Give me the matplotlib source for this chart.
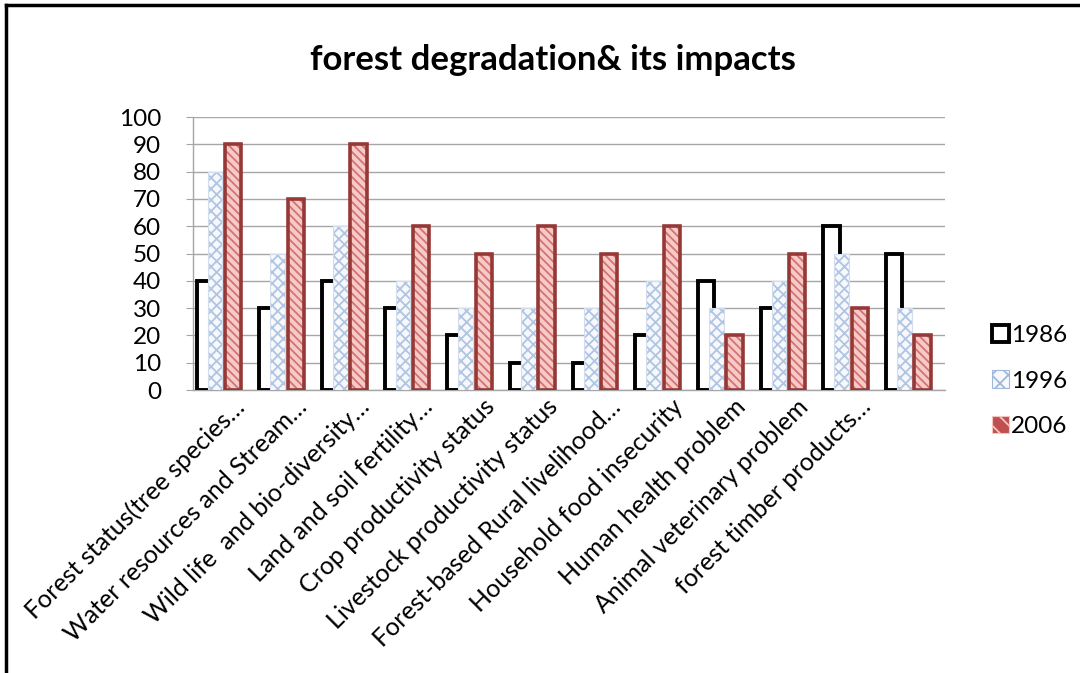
import matplotlib
matplotlib.use("Agg")
import matplotlib.pyplot as plt
import matplotlib.transforms as mtransforms
from matplotlib.patches import Patch
from matplotlib.lines import Line2D
import numpy as np

plt.rcParams['font.family'] = ['Lato', 'DejaVu Sans']
plt.rcParams['hatch.linewidth'] = 1.3

categories = [
    "Forest status(tree species…",
    "Water resources and Stream…",
    "Wild life  and bio-diversity…",
    "Land and soil fertility…",
    "Crop productivity status",
    "Livestock productivity status",
    "Forest-based Rural livelihood…",
    "Household food insecurity",
    "Human health problem",
    "Animal veterinary problem",
    "forest timber products…",
]
# the chart has twelve groups; the last one carries no label
categories_all = categories + [""]

series_names = ["1986", "1996", "2006"]
values_1986 = [40, 30, 40, 30, 20, 10, 10, 20, 40, 30, 60, 50]
values_1996 = [80, 50, 60, 40, 30, 30, 30, 40, 30, 40, 50, 30]
values_2006 = [90, 70, 90, 60, 50, 60, 50, 60, 20, 50, 30, 20]
y_ticks = [0, 10, 20, 30, 40, 50, 60, 70, 80, 90, 100]

fig = plt.figure(figsize=(10.8, 6.73), dpi=100)
ax = fig.add_axes([193 / 1080, 1 - 390 / 673, (945 - 193) / 1080, (390 - 117) / 673])

x = np.arange(len(categories_all))
w = 0.26
off_86, off_96, off_06 = -0.31, -0.15, 0.14

# 1986: hollow bars with heavy black outline
ax.bar(x + off_86, values_1986, width=w, facecolor="white", edgecolor="black",
       linewidth=2.8, zorder=3)

# 1996: light blue cross-hatch
ax.bar(x + off_96, values_1996, width=w * 0.9, facecolor="#F6F8FC", edgecolor="#AFC5E2",
       hatch="xxx", linewidth=0, zorder=4)
ax.bar(x + off_96, values_1996, width=w * 0.9, facecolor="none", edgecolor="#D2DDEE",
       linewidth=0.8, zorder=4)

# 2006: red diagonal stripes with dark red outline
ax.bar(x + off_06, values_2006, width=w, facecolor="#F5CBCA", edgecolor="#D6726F",
       hatch="\\\\\\\\", linewidth=0, zorder=5)
ax.bar(x + off_06, values_2006, width=w, facecolor="none", edgecolor="#963836",
       linewidth=2.6, zorder=5)

ax.set_xlim(-0.5, len(categories_all) - 0.5)
ax.set_ylim(0, 100)
ax.set_yticks(y_ticks)
ax.set_yticklabels([str(t) for t in y_ticks], fontsize=17.5)
ax.yaxis.grid(True, color="#A6A6A6", linewidth=1.0, zorder=0)
ax.set_axisbelow(True)

for side in ("top", "right"):
    ax.spines[side].set_visible(False)
for side in ("left", "bottom"):
    ax.spines[side].set_color("#A6A6A6")
    ax.spines[side].set_linewidth(1.0)
ax.tick_params(axis="y", length=5, color="#A6A6A6", pad=18)
ax.tick_params(axis="x", length=0)

ax.set_xticks(x)
ax.set_xticklabels(categories_all, rotation=45, ha="right", va="top",
                   rotation_mode="anchor", fontsize=18)
shift = mtransforms.ScaledTranslation(8 / 100, 0 / 100, fig.dpi_scale_trans)
for lbl in ax.get_xticklabels():
    lbl.set_transform(lbl.get_transform() + shift)

fig.text(553 / 1080, 1 - 60 / 673, "forest degradation& its impacts",
         ha="center", va="center", fontsize=25, fontweight="bold")

handles = [
    Patch(facecolor="white", edgecolor="black", linewidth=2.8),
    Patch(facecolor="#F6F8FC", edgecolor="#9FB8DA", hatch="xx", linewidth=0.8),
    Patch(facecolor="#C0504D", edgecolor="#F2C4C2", hatch="\\\\", linewidth=0.8),
]
leg = fig.legend(handles, series_names, loc="center left",
                 bbox_to_anchor=(982 / 1080, 1 - 381 / 673), frameon=False,
                 fontsize=17.5, handlelength=0.7, handleheight=0.7,
                 handletextpad=0.1, labelspacing=1.0, borderaxespad=0)

# outer frame lines
fig.add_artist(Line2D([6 / 1080, 6 / 1080], [0, 1 - 5 / 673], color="black",
                      linewidth=2.5, transform=fig.transFigure))
fig.add_artist(Line2D([6 / 1080, 1], [1 - 5 / 673, 1 - 5 / 673], color="black",
                      linewidth=2.5, transform=fig.transFigure))

fig.savefig("out.png", dpi=100, facecolor="white")
